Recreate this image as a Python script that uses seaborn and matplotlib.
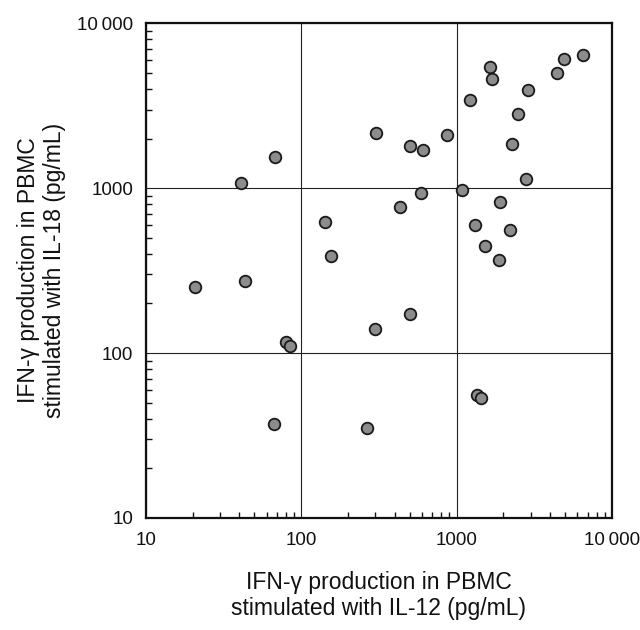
import pandas as pd
import matplotlib
matplotlib.use("Agg")
import matplotlib.pyplot as plt
import matplotlib.ticker as mtick
import seaborn as sns

# IFN-gamma production (pg/mL)
il12 = [20.7, 43.4, 40.8, 68.2, 79.4, 85.2, 66.8, 143, 155, 301, 297, 267,
        503, 607, 863, 503, 430, 593, 1081, 1213, 1648, 1687, 2904, 2476,
        2280, 2818, 4447, 4956, 6486, 1910, 1313, 2202, 1531, 1889, 1353, 1442]
il18 = [253, 274, 1070, 1542, 117, 111, 36.9, 622, 390, 2157, 139, 34.9,
        1800, 1710, 2109, 173, 774, 933, 968, 3404, 5430, 4616, 3955, 2832,
        1849, 1130, 4990, 6067, 6459, 822, 600, 558, 447, 367, 55.9, 53.6]
ticks = [10, 100, 1000, 10000]
tick_labels = ["10", "100", "1000", "10\u2009000"]

df = pd.DataFrame({"IL12": il12, "IL18": il18})

sns.set_style("white")
plt.rcParams["font.family"] = ["Liberation Sans", "DejaVu Sans"]

fig = plt.figure(figsize=(6.4, 6.3), dpi=100)
ax = fig.add_axes([0.228, 0.178, 0.728, 0.785])

sns.scatterplot(data=df, x="IL12", y="IL18", ax=ax, s=70, color="#8c8c8c",
                edgecolor="#1a1a1a", linewidth=1.3, zorder=3)

ax.set_xscale("log")
ax.set_yscale("log")
ax.set_xlim(10, 10000)
ax.set_ylim(10, 10000)

ax.set_xticks(ticks)
ax.set_xticklabels(tick_labels)
ax.set_yticks(ticks)
ax.set_yticklabels(tick_labels)
ax.xaxis.set_minor_locator(mtick.LogLocator(base=10, subs=range(2, 10)))
ax.yaxis.set_minor_locator(mtick.LogLocator(base=10, subs=range(2, 10)))
ax.xaxis.set_minor_formatter(mtick.NullFormatter())
ax.yaxis.set_minor_formatter(mtick.NullFormatter())

ax.tick_params(which="major", length=0, labelsize=13.5, colors="#111111")
ax.tick_params(axis="x", which="major", pad=10)
ax.tick_params(axis="y", which="major", pad=9)
ax.tick_params(which="minor", direction="in", length=4, width=1, color="#111111",
               bottom=True, left=True, top=False, right=False)

ax.grid(True, which="major", color="#222222", linewidth=0.8)
for s in ax.spines.values():
    s.set_color("#111111")
    s.set_linewidth(1.6)

ax.set_xlabel("IFN-\u03b3 production in PBMC\nstimulated with IL-12 (pg/mL)",
              fontsize=16.5, labelpad=16, linespacing=1.15, color="#111111")
ax.set_ylabel("IFN-\u03b3 production in PBMC\nstimulated with IL-18 (pg/mL)",
              fontsize=16.5, labelpad=8, linespacing=1.2, color="#111111")

plt.savefig("out.png", dpi=100)
